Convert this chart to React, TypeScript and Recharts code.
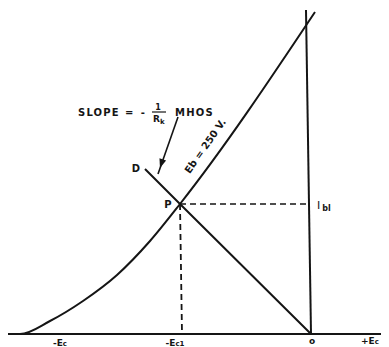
import React from "react";
import { ComposedChart, Line, Scatter, XAxis, YAxis } from "recharts";

// Grid voltage (x) vs plate current (y), arbitrary drawing units
const tubeCurve = [
  { x: -30.2, y: 0 },
  { x: -29, y: 0 },
  { x: -26, y: 1.3 },
  { x: -22.7, y: 3.3 },
  { x: -19.3, y: 5.9 },
  { x: -16, y: 9.3 },
  { x: -13, y: 13 },
  { x: 0.5, y: 32.2 },
];
const loadLine = [
  { x: -16.5, y: 16.5 },
  { x: -13, y: 13 },
  { x: 0.1, y: 0 },
];
const plateAxis = [
  { x: -0.4, y: 32.4 },
  { x: 0.1, y: 0 },
];
const gridAxis = [
  { x: -30.2, y: 0 },
  { x: 7.9, y: 0 },
];
const ibDash = [
  { x: -13, y: 13 },
  { x: -0.1, y: 13 },
];
const ecDash = [
  { x: -13, y: 13 },
  { x: -12.8, y: 0 },
];
const arrowLine = [
  { x: -13.2, y: 21.7 },
  { x: -15.2, y: 16 },
];
const arrowTip = [{ x: -15.0, y: 16.6 }];

const labels = [
  { x: -23.2, y: 22.2, t: "slope" },
  { x: -10.2, y: 18.6, t: "eb" },
  { x: -17.4, y: 16.6, t: "D" },
  { x: -14.2, y: 13.0, t: "P" },
  { x: 0.6, y: 13.0, t: "ib" },
  { x: -25, y: -0.9, t: "ec" },
  { x: -13.5, y: -0.9, t: "ec1" },
  { x: 0.2, y: -0.6, t: "zero" },
  { x: 6.0, y: -0.6, t: "pec" },
];

const INK = "#151515";
const FONT = "'DejaVu Sans', Arial, sans-serif";

const LabelShape = (props: any) => {
  const { cx, cy, payload } = props;
  const base = { fill: INK, fontFamily: FONT, fontWeight: 700 } as any;
  switch (payload.t) {
    case "slope":
      return (
        <g>
          <text x={cx} y={cy + 4} fontSize={10} letterSpacing={1.2} {...base}>SLOPE</text>
          <text x={cx + 47} y={cy + 4} fontSize={10} letterSpacing={2} {...base}>= -</text>
          <text x={cx + 80} y={cy - 2} fontSize={8} textAnchor="middle" {...base}>1</text>
          <line x1={cx + 74} x2={cx + 88} y1={cy} y2={cy} stroke={INK} strokeWidth={1.2} />
          <text x={cx + 75} y={cy + 10} fontSize={9} {...base}>R<tspan fontSize={7} dy={2}>k</tspan></text>
          <text x={cx + 97} y={cy + 4} fontSize={10} letterSpacing={1.2} {...base}>MHOS</text>
        </g>
      );
    case "eb":
      return (
        <text x={cx} y={cy} fontSize={10} textAnchor="middle" transform={`rotate(-55 ${cx} ${cy})`} {...base}>
          Eb = 250 V.
        </text>
      );
    case "D":
      return <text x={cx} y={cy + 4} fontSize={10} textAnchor="middle" {...base}>D</text>;
    case "P":
      return <text x={cx} y={cy + 4} fontSize={10} textAnchor="middle" {...base}>P</text>;
    case "ib":
      return (
        <text x={cx + 1} y={cy + 5} fontSize={11} {...base} fontWeight={400}>
          I<tspan fontSize={8} dy={2} dx={2} fontWeight={700}>bl</tspan>
        </text>
      );
    case "ec":
      return <text x={cx} y={cy + 3} fontSize={9} textAnchor="middle" {...base}>-E<tspan fontSize={7}>c</tspan></text>;
    case "ec1":
      return <text x={cx} y={cy + 3} fontSize={9} textAnchor="middle" {...base}>-E<tspan fontSize={7}>c1</tspan></text>;
    case "zero":
      return <text x={cx} y={cy + 4} fontSize={9} textAnchor="middle" {...base}>o</text>;
    case "pec":
      return <text x={cx} y={cy + 4} fontSize={9} textAnchor="middle" {...base}>+E<tspan fontSize={7}>c</tspan></text>;
    default:
      return null;
  }
};

const ArrowHead = (props: any) => {
  const { cx, cy } = props;
  return (
    <polygon
      points="0,0 -9,-3.5 -9,3.5"
      fill={INK}
      transform={`translate(${cx} ${cy}) rotate(108)`}
    />
  );
};

const lineProps = {
  type: "linear" as const,
  dataKey: "y",
  stroke: INK,
  dot: false,
  activeDot: false,
  isAnimationActive: false,
  legendType: "none" as const,
};

export default function App() {
  return (
    <div style={{ width: 381, height: 339, background: "#fff" }}>
      <ComposedChart width={381} height={339} margin={{ top: 0, right: 0, bottom: 0, left: 0 }}>
        <XAxis type="number" dataKey="x" domain={[-30.2, 7.9]} hide allowDataOverflow />
        <YAxis type="number" dataKey="y" domain={[-1.3, 32.6]} hide allowDataOverflow />
        <Line {...lineProps} data={gridAxis} strokeWidth={2} />
        <Line {...lineProps} data={plateAxis} strokeWidth={2} />
        <Line {...lineProps} data={tubeCurve} type="monotone" strokeWidth={2} />
        <Line {...lineProps} data={loadLine} strokeWidth={2} />
        <Line {...lineProps} data={ibDash} strokeWidth={1.5} strokeDasharray="6 4" />
        <Line {...lineProps} data={ecDash} strokeWidth={1.8} strokeDasharray="6 4" />
        <Line {...lineProps} data={arrowLine} strokeWidth={1.6} />
        <Scatter data={arrowTip} dataKey="y" shape={<ArrowHead />} isAnimationActive={false} />
        <Scatter data={labels} dataKey="y" shape={<LabelShape />} isAnimationActive={false} />
      </ComposedChart>
    </div>
  );
}
